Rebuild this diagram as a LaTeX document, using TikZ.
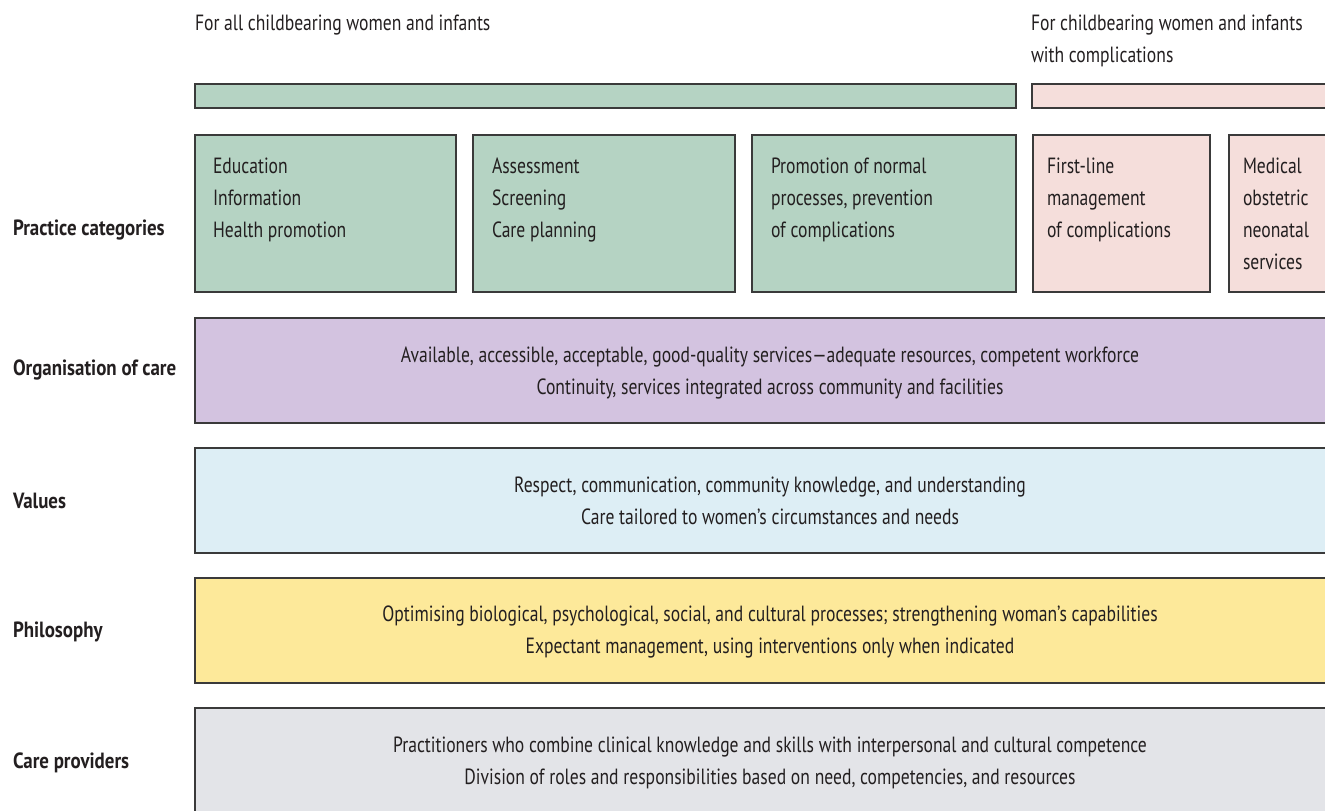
\documentclass[tikz,border=0pt]{standalone}
\usepackage{fontspec}
\setmainfont{PT Sans}[FakeStretch=0.8, BoldFeatures={FakeStretch=0.86}]
\usepackage{xcolor}
\usetikzlibrary{positioning}

\definecolor{inkgray}{HTML}{231F20}
\definecolor{edgegray}{HTML}{3A3A3A}
\definecolor{allgreen}{HTML}{B5D3C3}
\definecolor{compink}{HTML}{F5DEDB}
\definecolor{orgpurple}{HTML}{D3C3E0}
\definecolor{valblue}{HTML}{DDEEF5}
\definecolor{philyellow}{HTML}{FDE99A}
\definecolor{provgray}{HTML}{E3E4E8}

\begin{document}
\begin{tikzpicture} [x=1pt,y=-1pt,
    every node/.style={text=inkgray, inner sep=0pt, outer sep=0pt,
      font=\fontsize{22}{32}\selectfont},
    box/.style={rectangle, draw=edgegray, line width=1.4pt},
    bar/.style={box, minimum height=24pt, anchor=north west},
    cell/.style={box, minimum height=157pt, anchor=north west},
    band/.style={box, minimum height=105pt, minimum width=1150pt, anchor=north west},
    head/.style={anchor=north west, align=left},
    celltext/.style={anchor=north west, align=left},
    bandtext/.style={align=center},
    rowlabel/.style={anchor=west, font=\fontsize{22}{32}\selectfont\bfseries}
    ]
    \useasboundingbox (0,0) rectangle (1325,811);
    \clip (0,0) rectangle (1325,811);

    % headings over the two groups
    \node (h1) [head] at (195,15) {For all childbearing women and infants};
    \node (h2) [head] at (1031,15) {For childbearing women and infants\\with complications};

    \node (g1) [bar, fill=allgreen, minimum width=821pt] at (195,84) {};
    \node (g2) [bar, fill=compink, minimum width=313pt, right=16pt of g1] {};

    % practice categories
    \node (c1) [cell, fill=allgreen, minimum width=261pt] at (195,135) {};
    \node (c2) [cell, fill=allgreen, minimum width=262pt, right=17pt of c1] {};
    \node (c3) [cell, fill=allgreen, minimum width=264pt, right=17pt of c2] {};
    \node (c4) [cell, fill=compink, minimum width=177pt, right=17pt of c3] {};
    \node (c5) [cell, fill=compink, minimum width=116pt, right=19pt of c4] {};

    \node (t1) [celltext] at ([xshift=18pt,yshift=-23pt]c1.north west)
      {Education\\Information\\Health promotion};
    \node (t2) [celltext] at ([xshift=19pt,yshift=-23pt]c2.north west)
      {Assessment\\Screening\\Care planning};
    \node (t3) [celltext] at ([xshift=19pt,yshift=-23pt]c3.north west)
      {Promotion of normal\\processes, prevention\\of complications};
    \node (t4) [celltext] at ([xshift=14pt,yshift=-23pt]c4.north west)
      {First-line\\management\\of complications};
    \node (t5) [celltext] at ([xshift=14pt,yshift=-23pt]c5.north west)
      {Medical\\obstetric\\neonatal\\services};

    % the four bands below
    \node (b1) [band, fill=orgpurple] at (195,318) {};
    \node (b2) [band, fill=valblue] at (195,448) {};
    \node (b3) [band, fill=philyellow] at (195,578) {};
    \node (b4) [band, fill=provgray] at (195,708) {};

    \node (bt1) [bandtext] at ([yshift=-3pt]b1.center)
      {Available, accessible, acceptable, good-quality services---adequate resources, competent workforce\\
       Continuity, services integrated across community and facilities};
    \node (bt2) [bandtext] at (b2.center)
      {Respect, communication, community knowledge, and understanding\\
       Care tailored to women’s circumstances and needs};
    \node (bt3) [bandtext] at ([yshift=-1pt]b3.center)
      {Optimising biological, psychological, social, and cultural processes; strengthening woman’s capabilities\\
       Expectant management, using interventions only when indicated};
    \node (bt4) [bandtext] at ([yshift=-2pt]b4.center)
      {Practitioners who combine clinical knowledge and skills with interpersonal and cultural competence\\
       Division of roles and responsibilities based on need, competencies, and resources};

    % row labels
    \node (l1) [rowlabel] at (13,230) {Practice categories};
    \node (l2) [rowlabel] at (13,370) {Organisation of care};
    \node (l3) [rowlabel] at (13,501) {Values};
    \node (l4) [rowlabel] at (13,632) {Philosophy};
    \node (l5) [rowlabel] at (13,763) {Care providers};
\end{tikzpicture}
\end{document}
